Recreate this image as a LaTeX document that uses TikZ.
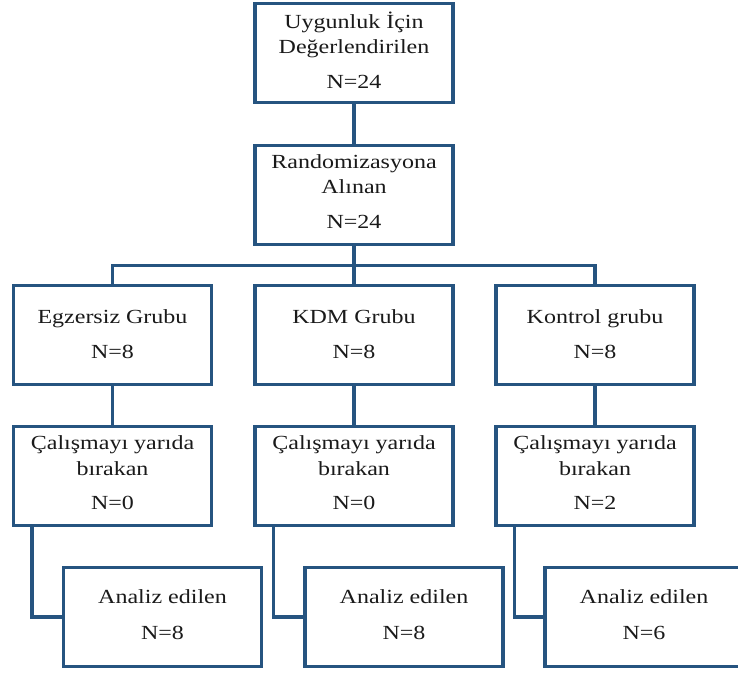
\documentclass[tikz,border=0pt]{standalone}
\usepackage{fontspec}
\setmainfont{Liberation Serif}[FakeStretch=1.2]
\definecolor{boxblue}{RGB}{38,84,128}
\definecolor{txtcol}{RGB}{26,26,26}
\begin{document}
\begin{tikzpicture}[x=1pt,y=-1pt,
  box/.style={draw=boxblue, line width=3.5pt, minimum width=198pt, minimum height=99pt, inner sep=0pt, fill=white},
  txt/.style={anchor=base, inner sep=0pt, text=txtcol, font=\fontsize{20}{24}\selectfont},
  conn/.style={draw=boxblue, line width=3.5pt}]
\useasboundingbox (0,0) rectangle (738,672);
% boxes
\node[box] (top)  at (354,53)  {};
\node[box] (rand) at (354,195) {};
\node[box] (g1) at (112.5,335) {};
\node[box] (g2) at (354,335) {};
\node[box] (g3) at (595,335) {};
\node[box] (d1) at (112.5,476) {};
\node[box] (d2) at (354,476) {};
\node[box] (d3) at (595,476) {};
\node[box] (a1) at (162.5,617) {};
\node[box] (a2) at (404,617) {};
\node[box] (a3) at (644,617) {};
% texts
\node[txt] at ([yshift=-26.5pt]top.north) {Uygunluk İçin};
\node[txt] at ([yshift=-51.5pt]top.north) {Değerlendirilen};
\node[txt] at ([yshift=-86.5pt]top.north) {N=24};
\node[txt] at ([yshift=-25pt]rand.north) {Randomizasyona};
\node[txt] at ([yshift=-50pt]rand.north) {Alınan};
\node[txt] at ([yshift=-85pt]rand.north) {N=24};
\node[txt] at ([yshift=-40pt]g1.north) {Egzersiz Grubu};
\node[txt] at ([yshift=-75pt]g1.north) {N=8};
\node[txt] at ([yshift=-40pt]g2.north) {KDM Grubu};
\node[txt] at ([yshift=-75pt]g2.north) {N=8};
\node[txt] at ([yshift=-40pt]g3.north) {Kontrol grubu};
\node[txt] at ([yshift=-75pt]g3.north) {N=8};
\foreach \d/\n in {d1/0,d2/0,d3/2}{
  \node[txt] at ([yshift=-25pt]\d.north) {Çalışmayı yarıda};
  \node[txt] at ([yshift=-50.5pt]\d.north) {bırakan};
  \node[txt] at ([yshift=-85pt]\d.north) {N=\n};
}
\foreach \a/\n in {a1/8,a2/8,a3/6}{
  \node[txt] at ([yshift=-37.5pt]\a.north) {Analiz edilen};
  \node[txt] at ([yshift=-74pt]\a.north) {N=\n};
}
% connectors
\coordinate (bus) at (354,265.5);
\draw[conn] (top.south) -- (rand.north);
\draw[conn] (rand.south) -- (g2.north);
\draw[conn] (g1.north) |- (bus) -| (g3.north);
\draw[conn] (g1.south) -- (d1.north);
\draw[conn] (g2.south) -- (d2.north);
\draw[conn] (g3.south) -- (d3.north);
\draw[conn] ([xshift=20pt]d1.south west) |- (a1.west);
\draw[conn] ([xshift=20pt]d2.south west) |- (a2.west);
\draw[conn] ([xshift=20pt]d3.south west) |- (a3.west);
\end{tikzpicture}
\end{document}
